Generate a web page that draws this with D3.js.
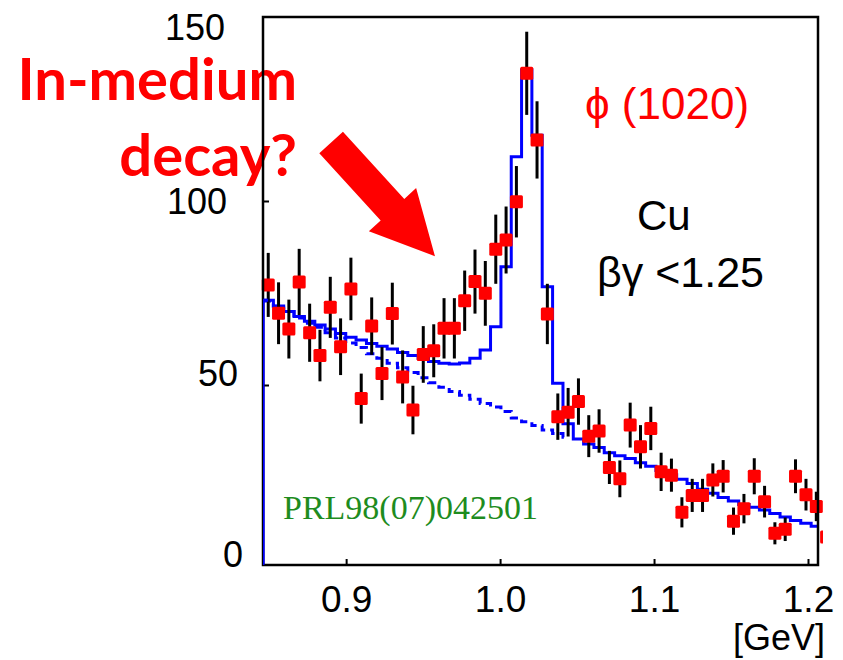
<!DOCTYPE html>
<html>
<head>
<meta charset="utf-8">
<script src="https://cdn.jsdelivr.net/npm/d3@7"></script>
<style>
  html, body { margin: 0; padding: 0; background: #fff; }
  svg { display: block; }
</style>
</head>
<body>
<div id="chart"></div>
<script>
// bin centres of the e+e- invariant mass spectrum [GeV]
const mass = [
  0.8494, 0.8561, 0.8628, 0.8695, 0.8763, 0.8830, 0.8897, 0.8964, 0.9031, 0.9098,
  0.9166, 0.9233, 0.9300, 0.9367, 0.9434, 0.9501, 0.9569, 0.9636, 0.9703, 0.9770,
  0.9837, 0.9904, 0.9972, 1.0039, 1.0106, 1.0173, 1.0240, 1.0307, 1.0375, 1.0442,
  1.0509, 1.0576, 1.0643, 1.0710, 1.0778, 1.0845, 1.0912, 1.0979, 1.1046, 1.1113,
  1.1181, 1.1248, 1.1315, 1.1382, 1.1449, 1.1516, 1.1584, 1.1651, 1.1718, 1.1785,
  1.1852, 1.1919, 1.1987, 1.2054, 1.2121
];

// measured counts per bin
const counts = [
  77.2, 69.5, 65.2, 78.0, 64.2, 58.0, 71.1, 60.4, 76.1, 46.3,
  66.0, 53.1, 69.4, 52.2, 43.2, 58.3, 59.3, 65.4, 65.4, 72.9,
  78.1, 74.9, 86.9, 89.4, 99.8, 134.7, 116.6, 69.3, 41.4, 42.6,
  45.5, 36.1, 37.5, 27.6, 24.5, 39.1, 33.2, 38.2, 26.4, 25.5,
  15.4, 20.0, 20.0, 24.2, 25.2, 13.0, 16.4, 25.2, 18.3, 9.7,
  10.8, 25.2, 20.2, 17.0, 8.7
];

// statistical errors
const errors = [
  8.7, 8.4, 8.0, 9.0, 7.9, 7.0, 8.3, 7.7, 8.5, 6.8,
  7.8, 7.2, 8.4, 7.2, 6.6, 7.7, 7.2, 8.2, 8.2, 8.2,
  8.7, 8.8, 9.4, 9.1, 9.7, 11.3, 10.5, 8.2, 6.3, 6.6,
  6.3, 5.7, 5.9, 4.5, 5.0, 6.1, 5.9, 5.9, 5.2, 4.5,
  4.1, 4.5, 4.5, 4.5, 4.4, 3.7, 4.0, 4.9, 4.3, 3.0,
  3.2, 4.6, 4.3, 4.0, 3.0
];

// fit: background + phi (solid histogram)
const fitTotal = [
  73.0, 71.5, 70.0, 68.6, 67.3, 66.3, 65.2, 64.0, 63.0, 62.2,
  61.3, 60.5, 59.8, 58.8, 58.0, 57.3, 56.4, 55.9, 55.7, 56.0,
  57.3, 59.5, 65.8, 82.1, 112.0, 135.6, 117.9, 76.7, 50.5, 39.5,
  35.3, 34.0, 33.0, 31.6, 30.8, 30.0, 28.9, 27.9, 26.8, 25.6,
  24.4, 23.2, 21.7, 20.6, 19.4, 18.5, 17.5, 16.8, 16.0, 15.1,
  14.1, 13.2, 12.4, 11.6
];

// background only (dashed), up to the end of the phi region
const background = [
  72.8, 71.4, 70.0, 68.2, 66.8, 65.7, 64.2, 62.8, 61.4, 60.2,
  58.5, 57.3, 55.9, 54.7, 53.4, 52.0, 50.6, 49.4, 48.2, 47.2,
  46.1, 45.0, 44.0, 42.8, 41.0, 40.0, 39.0, 37.8, 36.8, 35.8
];

const xTicks = [0.9, 1.0, 1.1, 1.2];
const yTicks = [0, 50, 100, 150];

const width = 843, height = 660;
const margin = { top: 17, right: 25, bottom: 95, left: 263 };
const w = width - margin.left - margin.right;
const h = height - margin.top - margin.bottom;

const svg = d3.select('#chart')
  .append('svg')
  .attr('width', width)
  .attr('height', height)
  .style('font-family', '"Liberation Sans", Arial, Helvetica, sans-serif');

const x = d3.scaleLinear().domain([0.846, 1.2065]).range([0, w]);
const y = d3.scaleLinear().domain([0, 150]).range([h + 4, 0]);

// annotation (sits under the axes)
const note = svg.append('text')
  .attr('text-anchor', 'end')
  .attr('fill', '#ff0000')
  .style('font-family', 'Lato, "Open Sans", sans-serif')
  .style('font-weight', 'bold')
  .style('font-size', '58px');
note.append('tspan').attr('x', 297).attr('y', 100).text('In-medium');
note.append('tspan').attr('x', 297).attr('y', 176).text('decay?');

const g = svg.append('g')
  .attr('transform', `translate(${margin.left},${margin.top})`);

const defs = svg.append('defs');
defs.append('clipPath').attr('id', 'plot-clip')
  .append('rect').attr('width', w).attr('height', h);
defs.append('clipPath').attr('id', 'mark-clip')
  .append('rect').attr('x', -10).attr('y', -20).attr('width', w + 15).attr('height', h + 20);

// arrow pointing at the low-mass side of the peak
const tip = [x(0.9577), y(85)];
g.append('path')
  .attr('d', 'M0,0 L-63,32 L-63,16 L-154,16 L-154,-16 L-63,-16 L-63,-32 Z')
  .attr('transform', `translate(${tip[0]},${tip[1]}) rotate(47.6)`)
  .attr('fill', '#ff0000');

// fit curves
const line = d3.line()
  .x(d => x(d[0]))
  .y(d => y(d[1]))
  .curve(d3.curveStep);

const x0 = x.domain()[0], x1 = x.domain()[1];

const bgPts = [[x0, background[0]], ...background.map((v, i) => [mass[i], v])];
g.append('path')
  .datum(bgPts)
  .attr('clip-path', 'url(#plot-clip)')
  .attr('d', line)
  .attr('fill', 'none')
  .attr('stroke', '#0000ff')
  .attr('stroke-width', 3)
  .attr('stroke-dasharray', '8,5');

const fitPts = [[x0, 0], [x0, fitTotal[0]],
  ...fitTotal.map((v, i) => [mass[i], v]),
  [x1, fitTotal[fitTotal.length - 1]]];
g.append('path')
  .datum(fitPts)
  .attr('clip-path', 'url(#plot-clip)')
  .attr('d', line)
  .attr('fill', 'none')
  .attr('stroke', '#0000ff')
  .attr('stroke-width', 3);

// data points
const pts = mass.map((m, i) => ({ m: m, c: counts[i], e: errors[i] }));
const marks = g.append('g').attr('clip-path', 'url(#mark-clip)');

marks.selectAll('line.err')
  .data(pts)
  .enter()
  .append('line')
  .attr('class', 'err')
  .attr('x1', d => x(d.m))
  .attr('x2', d => x(d.m))
  .attr('y1', d => y(d.c - d.e))
  .attr('y2', d => y(d.c + d.e))
  .attr('stroke', '#000')
  .attr('stroke-width', 3);

marks.selectAll('rect.pt')
  .data(pts)
  .enter()
  .append('rect')
  .attr('class', 'pt')
  .attr('x', d => x(d.m) - 6.5)
  .attr('y', d => y(d.c) - 6.5)
  .attr('width', 13)
  .attr('height', 13)
  .attr('rx', 1.5)
  .attr('fill', '#ff0000');

// axes
const xAxis = g.append('g')
  .attr('transform', `translate(0,${h})`)
  .call(d3.axisBottom(x)
    .tickValues(xTicks)
    .tickFormat(d3.format('.1f'))
    .tickSizeInner(-6)
    .tickSizeOuter(0)
    .tickPadding(21));
xAxis.select('.domain').remove();
xAxis.selectAll('.tick line').attr('stroke', '#000').attr('stroke-width', 2);
xAxis.selectAll('.tick text')
  .attr('fill', '#000')
  .style('font-family', '"Liberation Sans", Arial, sans-serif')
  .style('font-size', '37px');

const yLabelNudge = { 0: [-20, -15], 50: [-25, -12], 100: [-36, 0], 150: [-38, 10] };
const yAxis = g.append('g')
  .call(d3.axisLeft(y)
    .tickValues(yTicks)
    .tickSizeInner(-6)
    .tickSizeOuter(0));
yAxis.select('.domain').remove();
yAxis.selectAll('.tick line')
  .attr('stroke', '#000')
  .attr('stroke-width', 2)
  .filter(d => d === 0 || d === 150)
  .remove();
yAxis.selectAll('.tick text')
  .attr('fill', '#000')
  .attr('text-anchor', 'end')
  .attr('x', d => yLabelNudge[d][0])
  .attr('y', d => yLabelNudge[d][1])
  .attr('dy', '0.35em')
  .style('font-family', '"Liberation Sans", Arial, sans-serif')
  .style('font-size', '36px');

// frame
g.append('rect')
  .attr('width', w)
  .attr('height', h)
  .attr('fill', 'none')
  .attr('stroke', '#000')
  .attr('stroke-width', 2.5);

// redraw the left edge of the fit over the frame
g.append('path')
  .datum(fitPts.slice(0, 3))
  .attr('clip-path', 'url(#plot-clip)')
  .attr('d', line)
  .attr('fill', 'none')
  .attr('stroke', '#0000ff')
  .attr('stroke-width', 3);

svg.append('text')
  .attr('x', 825)
  .attr('y', 650)
  .attr('text-anchor', 'end')
  .style('font-size', '36px')
  .text('[GeV]');

// labels inside the plot
svg.append('text')
  .attr('x', 585)
  .attr('y', 119)
  .attr('fill', '#ff0000')
  .style('font-size', '44px')
  .text('\u03D5 (1020)');

svg.append('text')
  .attr('x', 637)
  .attr('y', 230)
  .attr('fill', '#000')
  .style('font-size', '42px')
  .text('Cu');

svg.append('text')
  .attr('x', 597)
  .attr('y', 287)
  .attr('fill', '#000')
  .style('font-size', '43px')
  .text('\u03B2\u03B3 <1.25');

svg.append('text')
  .attr('x', 283)
  .attr('y', 519)
  .attr('fill', '#1e8c1e')
  .style('font-family', '"Liberation Serif", "Times New Roman", serif')
  .style('font-size', '34px')
  .text('PRL98(07)042501');
</script>
</body>
</html>
